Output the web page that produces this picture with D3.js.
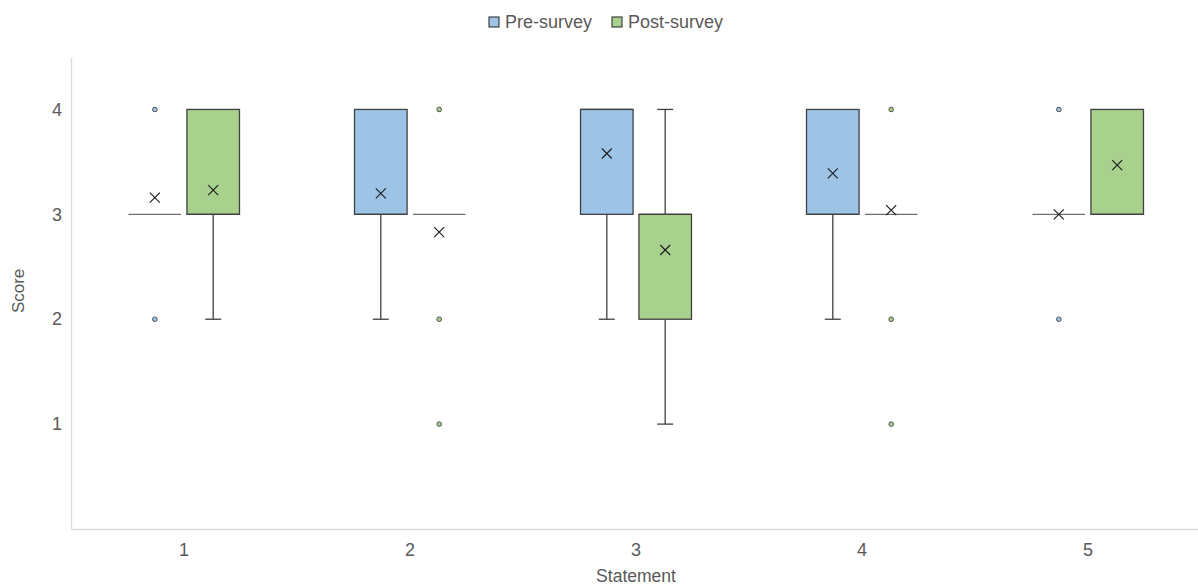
<!DOCTYPE html>
<html>
<head>
<meta charset="utf-8">
<script src="https://cdn.jsdelivr.net/npm/d3@7"></script>
<style>
  body { margin: 0; background: #fff; }
  text { font-family: "Liberation Sans", Arial, sans-serif; fill: #595959; }
</style>
</head>
<body>
<div id="chart"></div>
<script>
// Data
const statements = ['1', '2', '3', '4', '5']
const seriesNames = ['Pre-survey', 'Post-survey']
const yTicks = [1, 2, 3, 4]

const preQ1 = [3, 3, 3, 3, 3]
const preMedian = [3, 3, 4, 3, 3]
const preQ3 = [3, 4, 4, 4, 3]
const preLow = [3, 2, 2, 2, 3]
const preHigh = [3, 4, 4, 4, 3]
const preMean = [3.16, 3.2, 3.58, 3.39, 3.0]
const preOutliers = [[2, 4], [], [], [], [2, 4]]

const postQ1 = [3, 3, 2, 3, 3]
const postMedian = [3, 3, 3, 3, 3]
const postQ3 = [4, 3, 3, 3, 4]
const postLow = [2, 3, 1, 3, 3]
const postHigh = [4, 3, 4, 3, 4]
const postMean = [3.23, 2.83, 2.66, 3.04, 3.47]
const postOutliers = [[], [1, 2, 4], [], [1, 2, 4], []]

const colors = ['#9dc3e6', '#a9d18e']
const stroke = '#404040'

function build(i, q1, med, q3, lo, hi, mean, out){
    return statements.map((s, j) => ({
        statement: s, series: seriesNames[i], color: colors[i],
        q1: q1[j], median: med[j], q3: q3[j], low: lo[j], high: hi[j],
        mean: mean[j], outliers: out[j]
    }))
}
const boxes = build(0, preQ1, preMedian, preQ3, preLow, preHigh, preMean, preOutliers)
    .concat(build(1, postQ1, postMedian, postQ3, postLow, postHigh, postMean, postOutliers))

// Dimensions
const width = 1198, height = 587
const margin = {top: 57, right: -3, bottom: 58, left: 71}

const svg = d3.select('#chart').append('svg')
    .attr('width', width)
    .attr('height', height)

// Scales
const xScale = d3.scaleBand()
    .domain(statements)
    .range([margin.left, width - margin.right])

const inner = 58.4
const xSub = d3.scaleBand()
    .domain(seriesNames)
    .range([xScale.bandwidth() / 2 - inner, xScale.bandwidth() / 2 + inner])

const yScale = d3.scaleLinear()
    .domain([0, 4.5])
    .range([height - margin.bottom, margin.top])

// Axes
const xAxis = d3.axisBottom(xScale).tickSize(0).tickPadding(14)
const xAxisGroup = svg.append('g')
    .attr('transform', `translate(0, ${height - margin.bottom})`)
    .call(xAxis)
xAxisGroup.select('.domain').attr('stroke', '#d9d9d9').attr('stroke-width', 1.3)
xAxisGroup.selectAll('.tick text').style('font-size', '18px').attr('fill', '#595959')

const yAxis = d3.axisLeft(yScale).tickValues(yTicks).tickFormat(d3.format('d')).tickSize(0).tickPadding(9)
const yAxisGroup = svg.append('g')
    .attr('transform', `translate(${margin.left}, 0)`)
    .call(yAxis)
yAxisGroup.select('.domain').attr('stroke', '#d9d9d9').attr('stroke-width', 1.3)
yAxisGroup.selectAll('.tick text').style('font-size', '18px').attr('fill', '#595959')

svg.append('text')
    .text('Statement')
    .attr('x', margin.left + (width - margin.right - margin.left) / 2)
    .attr('y', 582)
    .attr('text-anchor', 'middle')
    .style('font-size', '17.5px')

svg.append('text')
    .text('Score')
    .attr('transform', `translate(24, ${yScale(2.27)}) rotate(-90)`)
    .attr('text-anchor', 'middle')
    .style('font-size', '17px')

// Boxes
const boxW = xSub.bandwidth() * 0.9
const groups = svg.append('g').selectAll('g')
    .data(boxes)
    .join('g')
    .attr('transform', d => `translate(${xScale(d.statement) + xSub(d.series) + xSub.bandwidth() / 2}, 0)`)

// whiskers
groups.filter(d => d.low < d.q1).append('line')
    .attr('x1', 0).attr('x2', 0)
    .attr('y1', d => yScale(d.low)).attr('y2', d => yScale(d.q1))
    .attr('stroke', stroke).attr('stroke-width', 1.3)
groups.filter(d => d.low < d.q1).append('line')
    .attr('x1', -8).attr('x2', 8)
    .attr('y1', d => yScale(d.low)).attr('y2', d => yScale(d.low))
    .attr('stroke', stroke).attr('stroke-width', 1.3)
groups.filter(d => d.high > d.q3).append('line')
    .attr('x1', 0).attr('x2', 0)
    .attr('y1', d => yScale(d.high)).attr('y2', d => yScale(d.q3))
    .attr('stroke', stroke).attr('stroke-width', 1.3)
groups.filter(d => d.high > d.q3).append('line')
    .attr('x1', -8).attr('x2', 8)
    .attr('y1', d => yScale(d.high)).attr('y2', d => yScale(d.high))
    .attr('stroke', stroke).attr('stroke-width', 1.3)

// box
groups.filter(d => d.q3 > d.q1).append('rect')
    .attr('x', -boxW / 2)
    .attr('width', boxW)
    .attr('y', d => yScale(d.q3))
    .attr('height', d => yScale(d.q1) - yScale(d.q3))
    .attr('fill', d => d.color)
    .attr('stroke', stroke)
    .attr('stroke-width', 1.3)

// median
groups.append('line')
    .attr('x1', -boxW / 2).attr('x2', boxW / 2)
    .attr('y1', d => yScale(d.median)).attr('y2', d => yScale(d.median))
    .attr('stroke', d => d.q3 > d.q1 ? stroke : '#6f6f6f')
    .attr('stroke-width', 1.3)

// outliers
groups.selectAll('circle')
    .data(d => d.outliers.map(v => ({v, color: d.color})))
    .join('circle')
    .attr('cx', 0)
    .attr('cy', d => yScale(d.v))
    .attr('r', 2.3)
    .attr('fill', d => d.color)
    .attr('stroke', stroke)
    .attr('stroke-width', 0.9)

// mean markers
groups.append('path')
    .attr('transform', d => `translate(0, ${yScale(d.mean)})`)
    .attr('d', 'M-5,-5L5,5M-5,5L5,-5')
    .attr('stroke', '#1a1a1a')
    .attr('stroke-width', 1.1)
    .attr('fill', 'none')

// Legend
const legend = svg.append('g')
const items = [{name: seriesNames[0], x: 489, color: colors[0]}, {name: seriesNames[1], x: 612, color: colors[1]}]
const li = legend.selectAll('g').data(items).join('g')
    .attr('transform', d => `translate(${d.x}, 17)`)
li.append('rect')
    .attr('width', 10).attr('height', 10)
    .attr('fill', d => d.color)
    .attr('stroke', stroke)
    .attr('stroke-width', 1.2)
li.append('text')
    .text(d => d.name)
    .attr('x', 16)
    .attr('y', 11)
    .style('font-size', '18px')
</script>
</body>
</html>
